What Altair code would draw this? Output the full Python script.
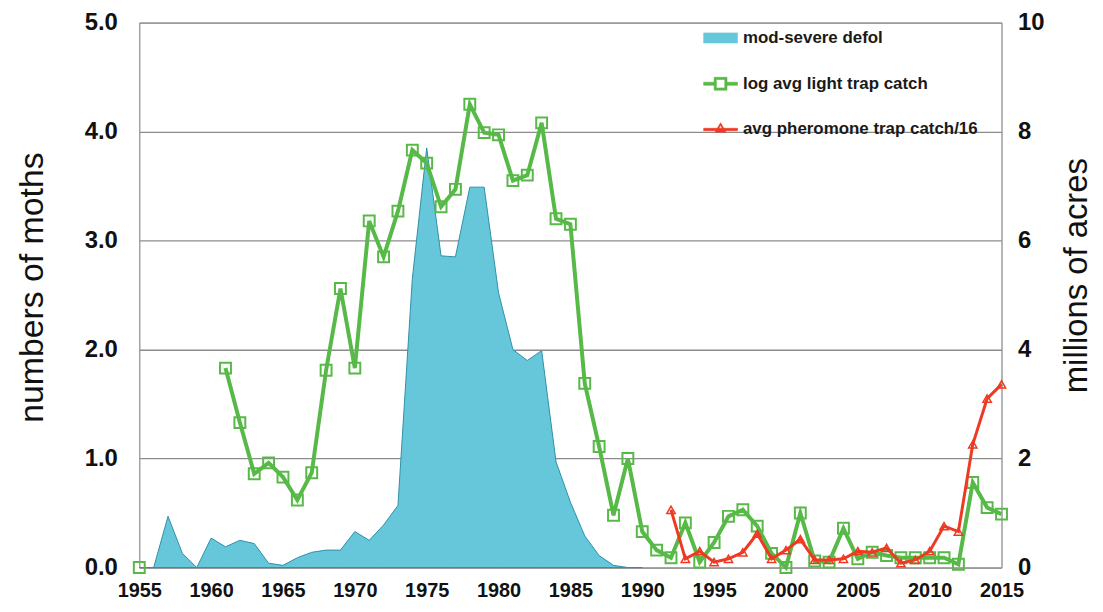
import altair as alt
import pandas as pd

# ---------------- data ----------------
SERIES = ["mod-severe defol", "log avg light trap catch", "avg pheromone trap catch/16"]
COLORS = ["#67C7DA", "#57B947", "#EE3A23"]

defol_years = list(range(1955, 1991))
defol_acres = [0, 0, 0.94, 0.26, 0, 0.54, 0.38, 0.50, 0.44, 0.08,
               0.04, 0.18, 0.28, 0.32, 0.32, 0.66, 0.50, 0.78, 1.14, 5.30,
               7.70, 5.72, 5.70, 6.98, 6.98, 5.04, 4.00, 3.80, 3.98, 1.94,
               1.20, 0.58, 0.22, 0.04, 0, 0]

light_years = [1955] + list(range(1961, 2016))
light_catch = [0.00,
               1.83, 1.33, 0.86, 0.96, 0.83, 0.62, 0.87, 1.81, 2.56, 1.83,
               3.18, 2.85, 3.27, 3.83, 3.71, 3.31, 3.47, 4.25, 3.99, 3.97,
               3.55, 3.60, 4.08, 3.20, 3.15, 1.69, 1.11, 0.48, 1.00, 0.33,
               0.16, 0.09, 0.41, 0.05, 0.23, 0.47, 0.53, 0.38, 0.13, 0.00,
               0.50, 0.06, 0.05, 0.36, 0.08, 0.14, 0.11, 0.09, 0.09, 0.09,
               0.09, 0.03, 0.78, 0.55, 0.49]
light_segment = [0] + [1] * 55

pher_years = list(range(1992, 2016))
pher_catch = [0.53, 0.08, 0.15, 0.05, 0.08, 0.14, 0.31, 0.08, 0.16, 0.26,
              0.07, 0.07, 0.08, 0.15, 0.14, 0.18, 0.04, 0.07, 0.15, 0.38,
              0.33, 1.13, 1.55, 1.68]

x_ticks = list(range(1955, 2020, 5))
left_ticks = [0, 1, 2, 3, 4, 5]
right_ticks = [0, 2, 4, 6, 8, 10]

# ---------------- tables ----------------
df_defol = pd.DataFrame({"year": defol_years, "acres": defol_acres, "series": SERIES[0]})
df_light = pd.DataFrame({"year": light_years, "moths": light_catch,
                         "seg": light_segment, "series": SERIES[1]})
df_pher = pd.DataFrame({"year": pher_years, "moths": pher_catch, "series": SERIES[2]})

FONT = "Liberation Sans"

# legend symbols (custom paths, unit box [-1,1])
P_DEFOL = "M-1,-0.3H1V0.3H-1Z"
P_LIGHT = ("M-1,-0.09H-0.38V0.09H-1Z M0.38,-0.09H1V0.09H0.38Z "
           "M-0.38,-0.38H0.38V0.38H-0.38Z M-0.25,-0.25V0.25H0.25V-0.25Z")
P_PHER = ("M-1,-0.07H1V0.07H-1Z M0,-0.4L0.32,0.16H-0.32Z M0,-0.25L-0.18,0.07H0.18Z")

shape_expr = ("datum.value === '%s' ? '%s' : (datum.value === '%s' ? '%s' : '%s')"
              % (SERIES[0], P_DEFOL, SERIES[1], P_LIGHT, P_PHER))

legend = alt.Legend(
    title=None, orient="none", legendX=567, legendY=-2, direction="vertical",
    labelFont=FONT, labelFontSize=17, labelFontWeight="bold", labelColor="#1a1a1a",
    symbolSize=1156, rowPadding=20, labelOffset=5, padding=0, labelLimit=500,
    symbolType={"expr": shape_expr}, symbolStrokeWidth=0.6, symbolOpacity=1,
)

color = alt.Color("series:N", scale=alt.Scale(domain=SERIES, range=COLORS), legend=legend)

x = alt.X("year:Q", scale=alt.Scale(domain=[1955, 2015], nice=False, zero=False),
          axis=alt.Axis(values=x_ticks, format="d", title=None, labelFont=FONT,
                        labelFontSize=20, labelFontWeight="bold", labelColor="#111",
                        labelPadding=13, ticks=False, grid=False,
                        domainColor="#9a9a9a", labelFlush=False))

y_moths = alt.Y("moths:Q", scale=alt.Scale(domain=[0, 5], nice=False),
                axis=alt.Axis(orient="left", values=left_ticks, format=".1f",
                              title="numbers of moths", titleFont=FONT, titleFontSize=34,
                              titleFontWeight="normal", titleColor="#111", titlePadding=35,
                              titleY=266,
                              labelFont=FONT, labelFontSize=24, labelFontWeight="bold",
                              labelColor="#111", labelPadding=22, ticks=False,
                              grid=True, gridColor="#8c8c8c", gridWidth=1.3,
                              domainColor="#9a9a9a"))

y_acres = alt.Y("acres:Q", scale=alt.Scale(domain=[0, 10], nice=False),
                axis=alt.Axis(orient="right", values=right_ticks, format="d",
                              title="millions of acres", titleFont=FONT, titleFontSize=33,
                              titleFontWeight="normal", titleColor="#111", titlePadding=17,
                              titleAngle=270, titleBaseline="top", titleY=254,
                              labelFont=FONT, labelFontSize=24, labelFontWeight="bold",
                              labelColor="#111", labelPadding=16, ticks=False,
                              grid=False, domainColor="#9a9a9a"))

area = alt.Chart(df_defol).mark_area(stroke="#2f8fa8", strokeWidth=1, opacity=1).encode(
    x=x, y=y_acres, color=color)

light_line = alt.Chart(df_light).mark_line(strokeWidth=4).encode(
    x=x, y=y_moths, color=color, detail="seg:N")
light_pts = alt.Chart(df_light).mark_point(shape="square", filled=False, size=120,
                                           strokeWidth=2, opacity=1).encode(
    x=x, y=y_moths, color=color)
pher_line = alt.Chart(df_pher).mark_line(strokeWidth=3).encode(
    x=x, y=y_moths, color=color)
pher_pts = alt.Chart(df_pher).mark_point(shape="triangle-up", filled=False, size=70,
                                         strokeWidth=1.5, opacity=1).encode(
    x=x, y=y_moths, color=color)

moths = alt.layer(light_line, light_pts, pher_line, pher_pts)

chart = alt.layer(area, moths).resolve_scale(y="independent").properties(
    width=867, height=548,
    autosize=alt.AutoSizeParams(type="none"),
    padding={"left": 132, "top": 13, "right": 94, "bottom": 32},
    background="white",
).configure_view(stroke="#a0a0a0", strokeWidth=1)

chart.save("out.html", embed_options={"renderer": "svg", "actions": False})
